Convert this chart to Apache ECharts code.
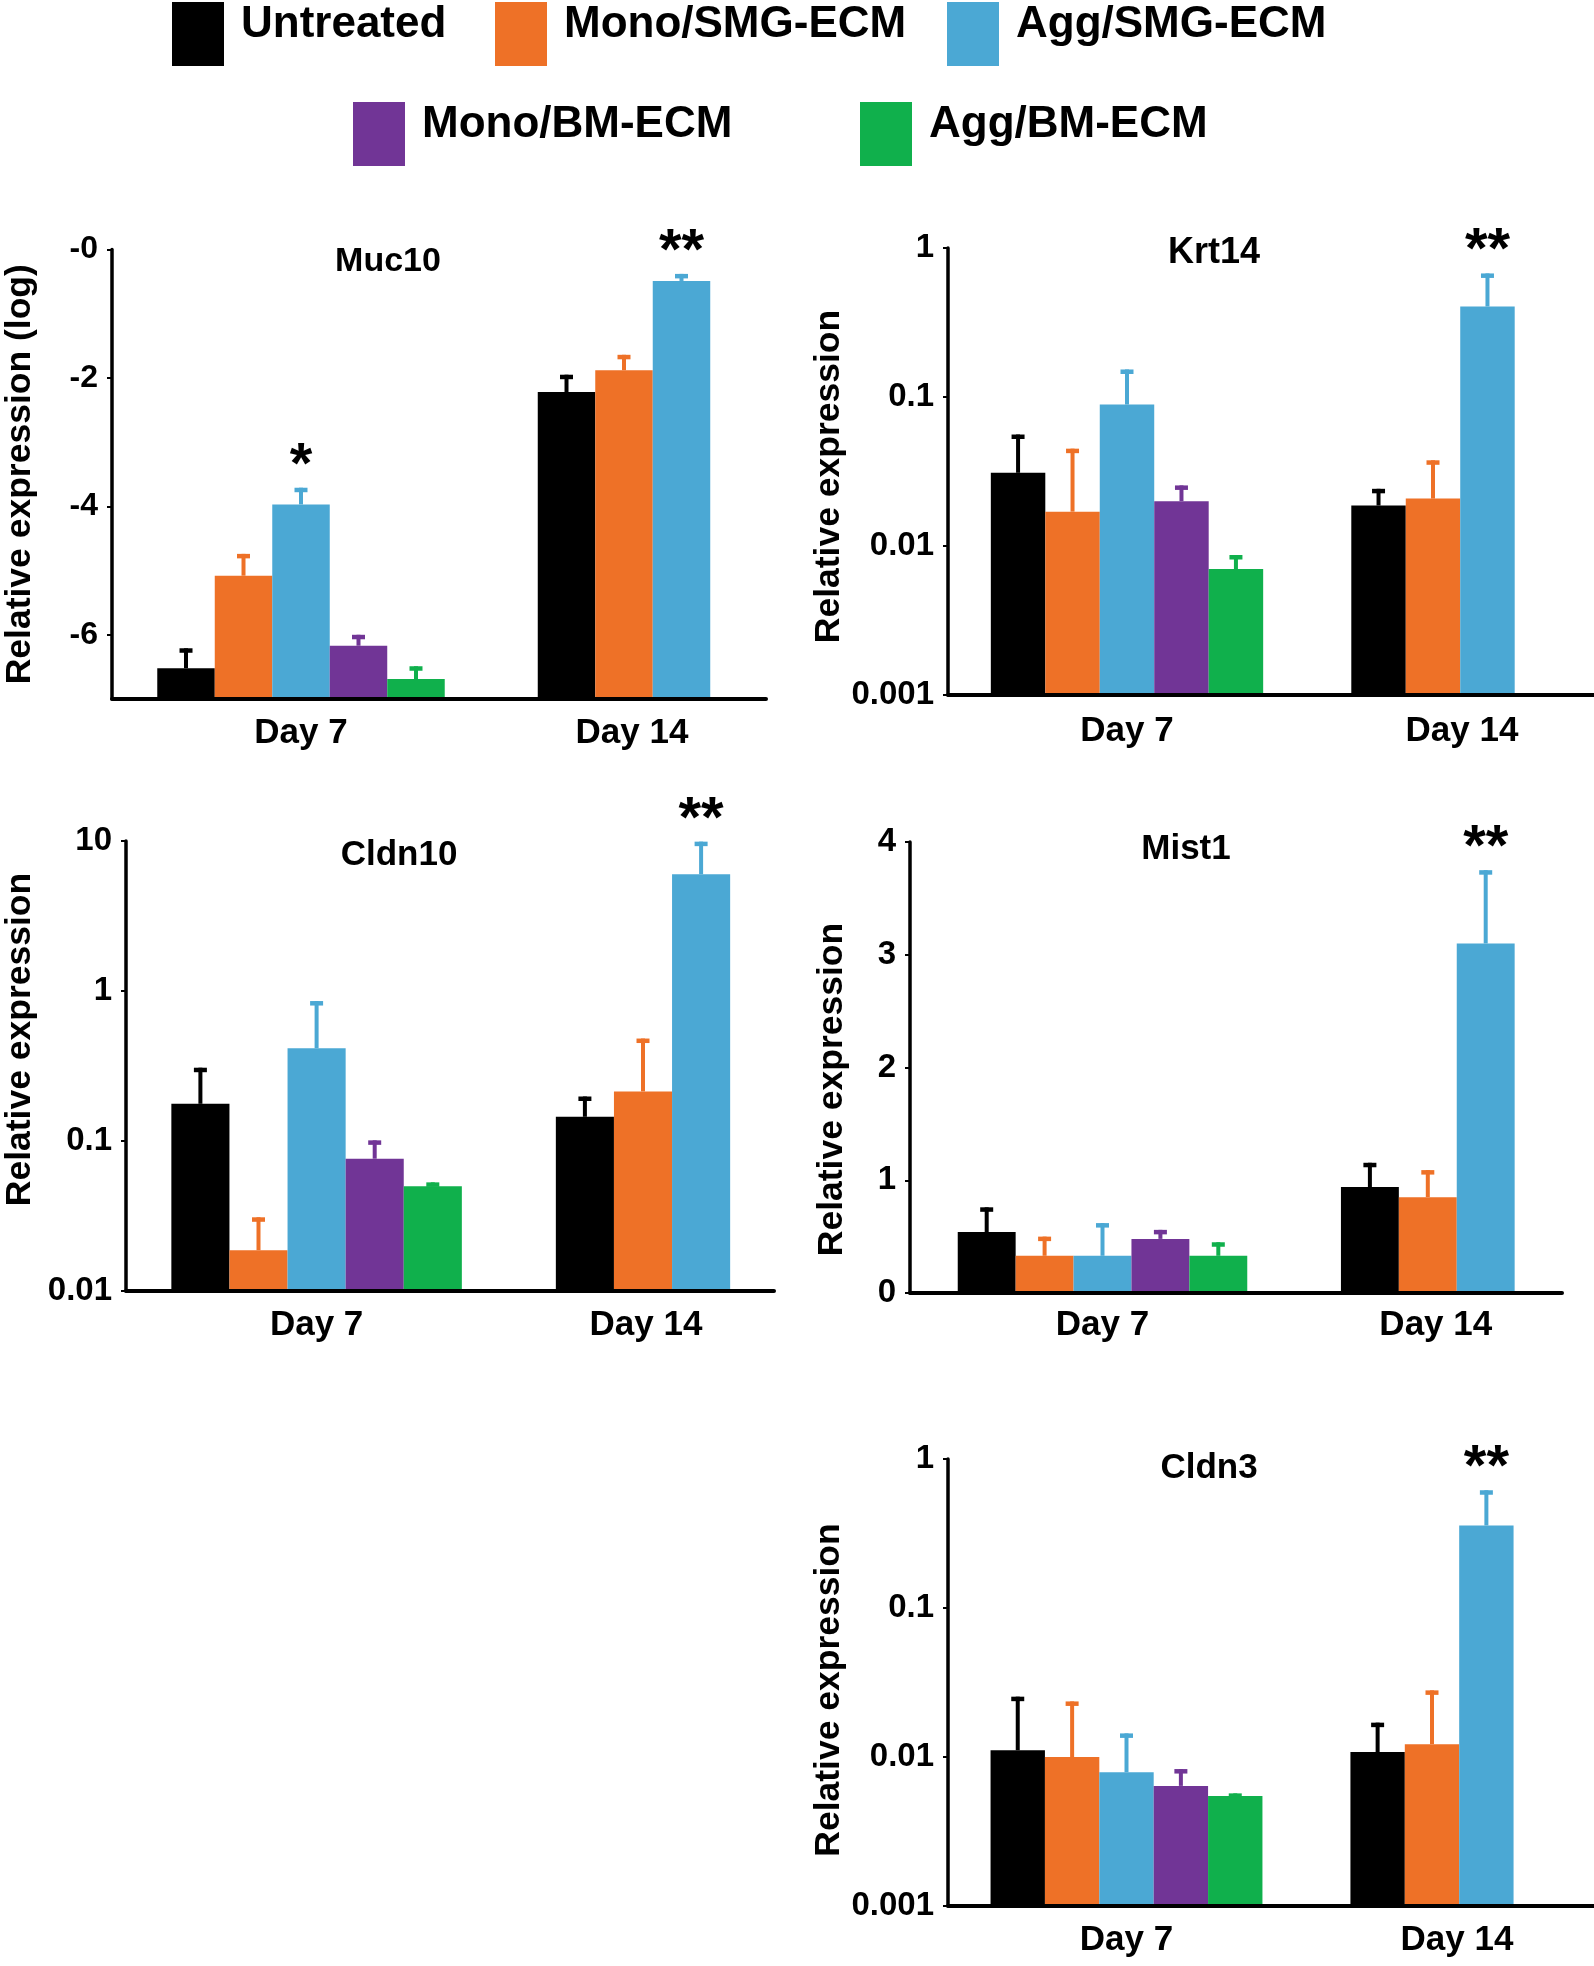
<!DOCTYPE html>
<html>
<head>
<meta charset="utf-8">
<script src="https://cdn.jsdelivr.net/npm/echarts@6/dist/echarts.min.js"></script>
<style>
html,body{margin:0;padding:0;background:#fff;}
#chart{width:1594px;height:1966px;}
</style>
</head>
<body>
<div id="chart"></div>
<script>
// ---------------- data ----------------
const categories = ['Day 7', 'Day 14'];
const groups = ['Untreated', 'Mono/SMG-ECM', 'Agg/SMG-ECM', 'Mono/BM-ECM', 'Agg/BM-ECM'];

// mean per group: [Day 7, Day 14]  (null = not measured)
const muc10Mean  = [[-6.52, -2.22], [-5.08, -1.88], [-3.97, -0.49], [-6.17, null], [-6.69, null]];
const muc10Upper = [[-6.21, -1.95], [-4.74, -1.64], [-3.71, -0.38], [-6.00, null], [-6.49, null]];
const muc10Stars = [['Day 7', 'Agg/SMG-ECM', '*'], ['Day 14', 'Agg/SMG-ECM', '**']];
const muc10YTicks = [0, -2, -4, -6];

const krt14Mean  = [[0.031, 0.0187], [0.017, 0.0208], [0.089, 0.405], [0.020, null], [0.0070, null]];
const krt14Upper = [[0.056, 0.0242], [0.045, 0.0376], [0.153, 0.675], [0.0255, null], [0.0087, null]];
const krt14Stars = [['Day 14', 'Agg/SMG-ECM', '**']];

const cldn10Mean  = [[0.177, 0.145], [0.0187, 0.214], [0.415, 6.0], [0.0762, null], [0.050, null]];
const cldn10Upper = [[0.308, 0.198], [0.031, 0.482], [0.857, 9.9], [0.101, null], [0.053, null]];
const cldn10Stars = [['Day 14', 'Agg/SMG-ECM', '**']];

const mist1Mean  = [[0.54, 0.94], [0.33, 0.85], [0.33, 3.10], [0.48, null], [0.33, null]];
const mist1Upper = [[0.76, 1.155], [0.50, 1.09], [0.62, 3.75], [0.56, null], [0.45, null]];
const mist1Stars = [['Day 14', 'Agg/SMG-ECM', '**']];

const cldn3Mean  = [[0.0111, 0.0108], [0.0100, 0.0122], [0.0079, 0.358], [0.0064, null], [0.00547, null]];
const cldn3Upper = [[0.0254, 0.017], [0.0236, 0.028], [0.0144, 0.617], [0.0083, null], [0.0057, null]];
const cldn3Stars = [['Day 14', 'Agg/SMG-ECM', '**']];

// ---------------- style / layout ----------------
const FONT = '"Liberation Sans", Arial, Helvetica, sans-serif';
const groupColors = ['#000000', '#EE7127', '#4BA8D4', '#713596', '#10B04C'];
const BAR_FRAC = 0.178;

const panels = [
  { title: 'Muc10', mean: muc10Mean, upper: muc10Upper, stars: muc10Stars,
    yType: 'value', yMin: -7, yMax: 0, yTicks: muc10YTicks, yName: 'Relative expression (log)',
    box: { left: 112, right: 766, top: 249.5, bottom: 699 }, c7: 301, c14: 624, labelShift: 8,
    titlePos: [388, 262], titleSize: 34, nameGap: 74, namePad: [0, 0, 0, 0], tickFont: 32, xMargin: 17 },
  { title: 'Krt14', mean: krt14Mean, upper: krt14Upper, stars: krt14Stars,
    yType: 'log', yMin: 0.001, yMax: 1, yName: 'Relative expression',
    box: { left: 948, right: 1594, top: 248, bottom: 695 }, c7: 1127, c14: 1433, labelShift: 29,
    titlePos: [1214, 253], titleSize: 36, nameGap: 98, namePad: [0, 10, 0, 0], tickFont: 33, xMargin: 19 },
  { title: 'Cldn10', mean: cldn10Mean, upper: cldn10Upper, stars: cldn10Stars,
    yType: 'log', yMin: 0.01, yMax: 10, yName: 'Relative expression',
    box: { left: 126, right: 774, top: 841, bottom: 1291 }, c7: 316.6, c14: 643, labelShift: 3,
    titlePos: [399, 855], titleSize: 35, nameGap: 88, namePad: [0, 0, 0, 53], tickFont: 33, xMargin: 17 },
  { title: 'Mist1', mean: mist1Mean, upper: mist1Upper, stars: mist1Stars,
    yType: 'value', yMin: 0, yMax: 4, yInterval: 1, yName: 'Relative expression',
    box: { left: 910, right: 1562, top: 842, bottom: 1293 }, c7: 1102.5, c14: 1427.8, labelShift: 8,
    titlePos: [1186, 849], titleSize: 35, nameGap: 60, namePad: [0, 44, 0, 0], tickFont: 33, xMargin: 15 },
  { title: 'Cldn3', mean: cldn3Mean, upper: cldn3Upper, stars: cldn3Stars,
    yType: 'log', yMin: 0.001, yMax: 1, yName: 'Relative expression',
    box: { left: 948, right: 1594, top: 1459, bottom: 1906 }, c7: 1126.5, c14: 1432, labelShift: 25,
    titlePos: [1209, 1468], titleSize: 35, nameGap: 98, namePad: [0, 15, 0, 0], tickFont: 33, xMargin: 17 }
];

const legendPos = [[172, 2], [495, 2], [947, 2], [353, 102], [860, 102]];

function fmtNum(v) {
  return String(Number(Number(v).toPrecision(4)));
}

const grids = [], xAxes = [], yAxes = [], series = [], titles = [];

panels.forEach((P, p) => {
  const b = P.box;
  const unit = P.c14 - P.c7;
  grids.push({ left: b.left, top: b.top, width: b.right - b.left, height: b.bottom - b.top,
    containLabel: false, outerBoundsMode: 'none' });

  xAxes.push({
    type: 'value', gridIndex: p,
    min: (b.left - P.c7) / unit, max: (b.right - P.c7) / unit,
    axisLine: { show: true, onZero: false, lineStyle: { color: '#000', width: 4 } },
    axisTick: { show: false },
    splitLine: { show: false },
    axisLabel: {
      customValues: [0, 1 + P.labelShift / unit],
      formatter: v => categories[Math.round(v)] || '',
      fontSize: 35, fontWeight: 'bold', color: '#000', fontFamily: FONT, margin: P.xMargin
    }
  });

  const y = {
    type: P.yType, gridIndex: p, min: P.yMin, max: P.yMax,
    name: P.yName, nameLocation: 'middle', nameRotate: 90, nameGap: P.nameGap,
    nameTextStyle: { fontSize: 35.5, fontWeight: 'bold', color: '#000', fontFamily: FONT, padding: P.namePad },
    axisLine: { show: true, onZero: false, lineStyle: { color: '#000', width: 3.5 } },
    axisTick: { show: true, length: 5, lineStyle: { color: '#000', width: 2 } },
    splitLine: { show: false },
    axisLabel: {
      fontSize: P.tickFont, fontWeight: 'bold', color: '#000', fontFamily: FONT, margin: 14,
      formatter: v => (P.yType === 'value' && P.yTicks && Math.abs(v) < 1e-9) ? '-0' : fmtNum(v)
    }
  };
  if (P.yType === 'log') y.logBase = 10;
  if (P.yInterval) y.interval = P.yInterval;
  if (P.yTicks) {
    y.axisLabel.customValues = P.yTicks;
    y.axisTick.customValues = P.yTicks;
  }
  yAxes.push(y);

  titles.push({
    text: P.title, left: P.titlePos[0], top: P.titlePos[1], textAlign: 'center', textVerticalAlign: 'middle',
    padding: 0, textStyle: { fontSize: P.titleSize, fontWeight: 'bold', color: '#000', fontFamily: FONT }
  });

  groups.forEach((gName, g) => {
    const data = [];
    categories.forEach((c, ci) => {
      if (P.mean[g][ci] != null) data.push([ci, P.mean[g][ci], P.upper[g][ci]]);
    });
    series.push({
      type: 'custom', name: gName, coordinateSystem: 'cartesian2d',
      xAxisIndex: p, yAxisIndex: p,
      itemStyle: { color: groupColors[g] },
      encode: { x: 0, y: [1, 2] },
      clip: false,
      data: data,
      renderItem: function (params, api) {
        const ci = Math.round(api.value(0));
        const v = api.value(1), up = api.value(2);
        const present = groups.map((_, k) => k).filter(k => P.mean[k][ci] != null);
        const slot = present.indexOf(g), n = present.length;
        const p0 = api.coord([ci, P.yMin]);
        const unitPx = api.coord([ci + 1, P.yMin])[0] - p0[0];
        const bw = unitPx * BAR_FRAC;
        const cx = p0[0] + (slot - (n - 1) / 2) * bw;
        const baseY = p0[1] - 2;
        const topY = api.coord([ci, v])[1];
        const errY = api.coord([ci, up])[1];
        const color = groupColors[g];
        const children = [
          { type: 'rect', shape: { x: cx - bw / 2, y: topY, width: bw, height: baseY - topY }, style: { fill: color } },
          { type: 'rect', shape: { x: cx - 2, y: errY, width: 4, height: topY - errY }, style: { fill: color } },
          { type: 'rect', shape: { x: cx - 6.5, y: errY, width: 13, height: 4.5 }, style: { fill: color } }
        ];
        const star = P.stars.find(s => s[0] === categories[ci] && s[1] === gName);
        if (star) {
          children.push({ type: 'text', x: cx, y: errY - 21,
            style: { text: star[2], fill: '#000', fontSize: 58, fontWeight: 'bold', fontFamily: FONT,
              align: 'center', verticalAlign: 'middle' } });
        }
        return { type: 'group', children: children };
      }
    });
  });
});

const legends = groups.map((name, i) => ({
  data: [name], left: legendPos[i][0], top: legendPos[i][1], orient: 'horizontal',
  itemWidth: 52, itemHeight: 64, itemGap: 0, padding: 0, icon: 'rect',
  formatter: '{t|{name}}',
  textStyle: {
    fontSize: 44, fontWeight: 'bold', color: '#000', fontFamily: FONT, padding: [0, 0, 0, 12],
    rich: { t: { fontSize: 44, fontWeight: 'bold', color: '#000', fontFamily: FONT, padding: [0, 0, 19, 0] } }
  }
}));

const chart = echarts.init(document.getElementById('chart'), null, { renderer: 'canvas' });
chart.setOption({
  animation: false,
  backgroundColor: '#ffffff',
  textStyle: { fontFamily: FONT },
  title: titles,
  legend: legends,
  grid: grids,
  xAxis: xAxes,
  yAxis: yAxes,
  series: series
});
</script>
</body>
</html>
